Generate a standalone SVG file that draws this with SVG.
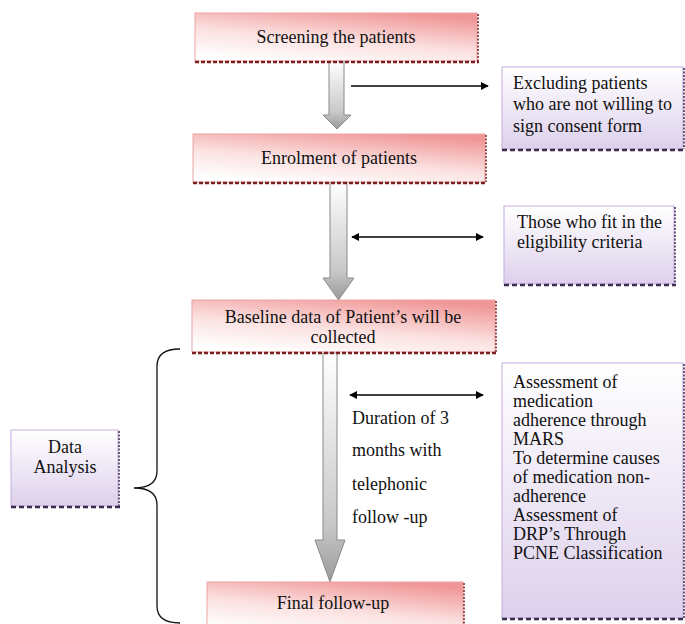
<svg xmlns="http://www.w3.org/2000/svg" width="685" height="624" viewBox="0 0 685 624" font-family="'Liberation Serif', 'DejaVu Serif', serif">
<defs>
<linearGradient id="pink" x1="0.25" y1="1" x2="0.75" y2="0">
<stop offset="0" stop-color="#ffffff"/>
<stop offset="0.45" stop-color="#fbe0e0"/>
<stop offset="1" stop-color="#f09696"/>
</linearGradient>
<linearGradient id="lav" x1="0" y1="0" x2="0" y2="1">
<stop offset="0" stop-color="#ffffff"/>
<stop offset="1" stop-color="#ddd0ec"/>
</linearGradient>
<linearGradient id="grey" x1="0" y1="0" x2="0" y2="1">
<stop offset="0" stop-color="#ffffff"/>
<stop offset="0.75" stop-color="#c8c8c8"/>
<stop offset="1" stop-color="#9a9a9a"/>
</linearGradient>
<marker id="ah" viewBox="0 0 10 10" refX="9" refY="5" markerWidth="8" markerHeight="8" markerUnits="userSpaceOnUse" orient="auto-start-reverse">
<path d="M0,0 L10,5 L0,10 Z" fill="#000"/>
</marker>
<style>
.pbox{fill:url(#pink);stroke:#eda3a3;stroke-width:1}
.pshb{stroke:#7a1f1f;stroke-width:2.5;stroke-dasharray:4 2;fill:none}
.pshr{stroke:#7a1f1f;stroke-width:1.5;stroke-dasharray:2 1.5;fill:none}
.lbox{fill:url(#lav);stroke:#c4acdf;stroke-width:1}
.lshb{stroke:#3a2a4e;stroke-width:2.5;stroke-dasharray:5 3;fill:none}
.lshr{stroke:#3a2a4e;stroke-width:1.5;stroke-dasharray:2 1.5;fill:none}
.arr{fill:url(#grey);stroke:#8a8a8a;stroke-width:1}
.line{stroke:#000;stroke-width:1.6;fill:none}
text{font-family:'Liberation Serif','DejaVu Serif',serif;font-size:18px;fill:#111}
.c{text-anchor:middle}
</style>
</defs>

<g id="connectors">
<path class="arr" d="M329,61 L344,61 L344,115 L351,115 L337,129 L323,115 L329,115 Z"/>
<path class="arr" d="M330,182 L347,182 L347,278 L354,278 L338.5,300 L323,278 L330,278 Z"/>
<path class="arr" d="M323,353 L337,353 L337,540 L345,540 L330,582 L315,540 L323,540 Z"/>
<line class="line" x1="351" y1="86" x2="488" y2="86" marker-end="url(#ah)"/>
<line class="line" x1="352" y1="237" x2="483" y2="237" marker-start="url(#ah)" marker-end="url(#ah)"/>
<line class="line" x1="350" y1="395" x2="483" y2="395" marker-start="url(#ah)" marker-end="url(#ah)"/>
<path d="M180,349 Q157,349 157,366 L157,471 Q157,488 134,488 Q157,488 157,505 L157,606 Q157,623 180,623" fill="none" stroke="#111" stroke-width="1.3"/>
</g>

<g id="screening">
<rect class="pbox" x="195" y="13" width="282" height="48"/>
<line class="pshr" x1="478" y1="14" x2="478" y2="61"/>
<line class="pshb" x1="195" y1="62" x2="479" y2="62"/>
<text class="c" x="336" y="43">Screening the patients</text>
</g>

<g id="enrolment">
<rect class="pbox" x="193" y="134" width="292" height="48"/>
<line class="pshr" x1="486" y1="135" x2="486" y2="182"/>
<line class="pshb" x1="193" y1="183" x2="487" y2="183"/>
<text class="c" x="339" y="164">Enrolment of patients</text>
</g>

<g id="baseline">
<rect class="pbox" x="192" y="300" width="303" height="52"/>
<line class="pshr" x1="496" y1="301" x2="496" y2="352"/>
<line class="pshb" x1="192" y1="353" x2="497" y2="353"/>
<text class="c" x="343" y="323">Baseline data of Patient’s will be</text>
<text class="c" x="343" y="343">collected</text>
</g>

<g id="final">
<rect class="pbox" x="207" y="582" width="256" height="50"/>
<line class="pshr" x1="464" y1="583" x2="464" y2="624"/>
<text class="c" x="333" y="609">Final follow-up</text>
</g>

<g id="excluding">
<rect class="lbox" x="502" y="67" width="181" height="82"/>
<line class="lshr" x1="684" y1="68" x2="684" y2="149"/>
<line class="lshb" x1="502" y1="150" x2="685" y2="150"/>
<text x="513" y="89">Excluding patients</text>
<text x="513" y="110">who are not willing to</text>
<text x="513" y="132">sign consent form</text>
</g>

<g id="eligibility">
<rect class="lbox" x="504" y="206" width="170" height="78"/>
<line class="lshr" x1="675" y1="207" x2="675" y2="284"/>
<line class="lshb" x1="504" y1="285" x2="676" y2="285"/>
<text x="517" y="228">Those who fit in the</text>
<text x="517" y="248">eligibility criteria</text>
</g>

<g id="assessment">
<rect class="lbox" x="502" y="363" width="181" height="255"/>
<line class="lshr" x1="684" y1="364" x2="684" y2="618"/>
<line class="lshb" x1="502" y1="619" x2="685" y2="619"/>
<text x="513" y="388">Assessment of</text>
<text x="513" y="407">medication</text>
<text x="513" y="426">adherence through</text>
<text x="513" y="445">MARS</text>
<text x="513" y="464">To determine causes</text>
<text x="513" y="483">of medication non-</text>
<text x="513" y="502">adherence</text>
<text x="513" y="521">Assessment of</text>
<text x="513" y="540">DRP’s Through</text>
<text x="513" y="559">PCNE Classification</text>
</g>

<g id="data-analysis">
<rect class="lbox" x="11" y="430" width="107" height="76"/>
<line class="lshr" x1="119" y1="431" x2="119" y2="506"/>
<line class="lshb" x1="11" y1="507" x2="120" y2="507"/>
<text class="c" x="65" y="453">Data</text>
<text class="c" x="65" y="473">Analysis</text>
</g>

<g id="duration">
<text x="352" y="424">Duration of 3</text>
<text x="352" y="456">months with</text>
<text x="352" y="490">telephonic</text>
<text x="352" y="523">follow -up</text>
</g>
</svg>
